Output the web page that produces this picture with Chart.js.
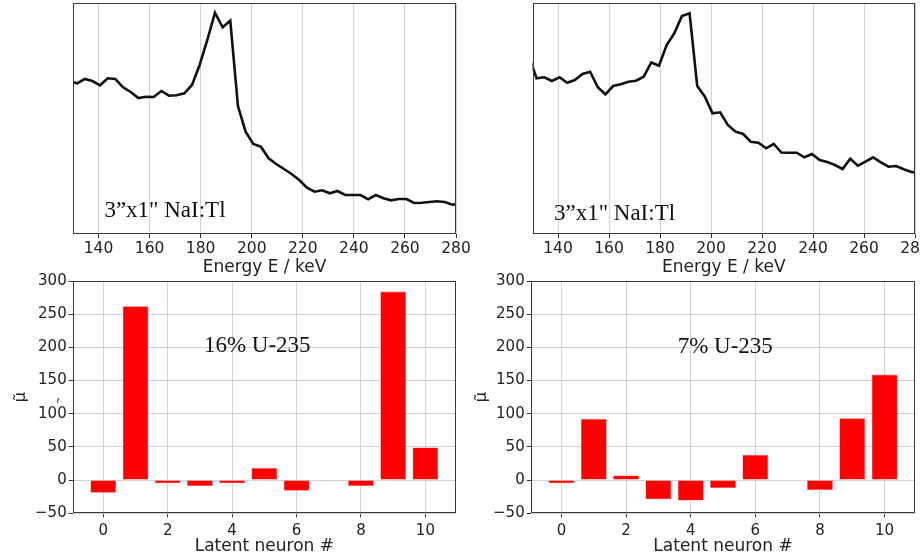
<!DOCTYPE html>
<html><head><meta charset="utf-8">
<script src="https://cdn.jsdelivr.net/npm/chart.js@4/dist/chart.umd.min.js"></script>
<style>
html,body{margin:0;padding:0;width:920px;height:556px;overflow:hidden;background:#fff;}
canvas{position:absolute;}
</style></head><body>
<canvas id="tl" width="475" height="280" style="left:0px;top:0px"></canvas>
<canvas id="tr" width="475" height="280" style="left:460px;top:0px"></canvas>
<canvas id="bl" width="470" height="286" style="left:0px;top:270px"></canvas>
<canvas id="br" width="470" height="286" style="left:460px;top:270px"></canvas>
<script>
// ---- data ----
const energies = [128.6,131.6,134.6,137.6,140.6,143.6,146.6,149.6,152.6,155.6,158.6,161.6,164.6,167.6,170.6,173.6,176.6,179.6,182.6,185.6,188.6,191.6,194.6,197.6,200.6,203.6,206.6,209.6,212.6,215.6,218.6,221.6,224.6,227.6,230.6,233.6,236.6,239.6,242.6,245.6,248.6,251.6,254.6,257.6,260.6,263.6,266.6,269.6,272.6,275.6,278.6,281.6];
const spectrum16 = [153,150.7,155,153,148.7,155.7,155,146.7,142,136,137.3,137,143,138.3,138.7,140.7,149,169,194,221.3,206.7,213.3,128,102.3,90,87.3,75.7,70,65,60,54,46.3,42.3,43.7,40.7,43,39,39,39,34.7,39,35.7,33.7,35,35,31,31.3,32,32.7,32,29.3,30];
const spectrum7 = [178,155.7,156.7,153,156.7,151.3,154,160,162.3,146.7,139.7,148,149.7,152.3,153.3,157.3,171.5,168.3,189,200.7,218,220.7,148,137.3,120.7,121.7,109,102.3,100,92.3,91.3,85.7,90,81.5,81.3,81.3,76.7,80,74,72,69,65,75.3,68.3,72.3,76.7,71.7,67.3,68,64.7,62,61];
const energyTicks = [140,160,180,200,220,240,260,280];
const neurons = [0,1,2,3,4,5,6,7,8,9,10];
const mu16 = [-19,262,-5,-9,-5,18,-16,-1,-9,284,49];
const mu7 = [-5,92,7,-29,-31,-12,38,0,-15,93,159];
const neuronTicks = [0,2,4,6,8,10];
const muTicks = [-50,0,50,100,150,200,250,300];

const TXT = '#222';
const GRID = '#d2d2d2';
const SANS = "'DejaVu Sans', sans-serif";
const SERIF = "'Liberation Serif', serif";

const framePlugin = {
  id: 'frame',
  afterDatasetsDraw(chart) {
    const {ctx, chartArea: a} = chart;
    const l = Math.round(a.left) + 0.5, t = Math.round(a.top) + 0.5;
    const r = Math.round(a.right) - 0.5, b = Math.round(a.bottom) - 0.5;
    ctx.save();
    ctx.strokeStyle = '#3a3a3a';
    ctx.lineWidth = 1;
    ctx.strokeRect(l, t, r - l, b - t);
    ctx.restore();
  }
};

const notesPlugin = {
  id: 'notes',
  afterDraw(chart, args, opts) {
    const ctx = chart.ctx;
    (opts.items || []).forEach(it => {
      ctx.save();
      ctx.font = it.font;
      ctx.fillStyle = it.color || '#111';
      ctx.textAlign = it.align || 'left';
      ctx.textBaseline = it.baseline || 'alphabetic';
      let px, py;
      if (it.px !== undefined) { px = it.px; py = it.py; }
      else { px = chart.scales.x.getPixelForValue(it.x); py = chart.scales.y.getPixelForValue(it.y); }
      ctx.translate(px, py);
      if (it.rot) ctx.rotate(it.rot);
      ctx.fillText(it.text, 0, 0);
      ctx.restore();
    });
  }
};

function lineChart(id, values, padL, padR, note) {
  return new Chart(document.getElementById(id), {
    type: 'line',
    data: { datasets: [{
      data: energies.map((e, i) => ({x: e, y: values[i]})),
      borderColor: '#111', borderWidth: 2.6, pointRadius: 0, tension: 0, fill: false
    }]},
    options: {
      responsive: false, animation: false, events: [],
      layout: {padding: {left: padL, top: 3, right: padR, bottom: 0}},
      plugins: {legend: {display: false}, tooltip: {enabled: false}, notes: {items: [note]}},
      scales: {
        x: {
          type: 'linear', min: 130, max: 280,
          afterBuildTicks: s => { s.ticks = energyTicks.map(v => ({value: v})); },
          afterFit: s => { s.height = 46; },
          grid: {color: GRID, tickColor: '#333', tickLength: 4, lineWidth: 1},
          border: {display: false},
          ticks: {font: {family: SANS, size: 15.5, lineHeight: 1}, color: TXT, padding: 3, maxRotation: 0, autoSkip: false},
          title: {display: true, text: 'Energy E / keV', color: TXT, font: {family: SANS, size: 17, lineHeight: 1}, padding: {top: 0, bottom: 3.5}}
        },
        y: {
          min: 0, max: 231,
          ticks: {display: false}, grid: {display: false}, border: {display: false},
          afterFit: s => { s.width = 0; }
        }
      }
    },
    plugins: [framePlugin, notesPlugin]
  });
}

function barChart(id, values, yw, padR, titlePad, note, extra) {
  const items = [note].concat(extra || []);
  return new Chart(document.getElementById(id), {
    type: 'bar',
    data: { datasets: [{
      data: neurons.map((n, i) => ({x: n, y: values[i]})),
      backgroundColor: '#ff0000', borderColor: '#ff5a5a', borderWidth: 0.6,
      barPercentage: 0.8, categoryPercentage: 1
    }]},
    options: {
      responsive: false, animation: false, events: [],
      layout: {padding: {left: 0, top: 11, right: padR, bottom: 0}},
      plugins: {legend: {display: false}, tooltip: {enabled: false}, notes: {items: items}},
      scales: {
        x: {
          type: 'linear', min: -0.95, max: 10.95, offset: false,
          afterBuildTicks: s => { s.ticks = neuronTicks.map(v => ({value: v})); },
          afterFit: s => { s.height = 286 - 243.2; },
          grid: {color: GRID, tickColor: '#333', tickLength: 4, offset: false},
          border: {display: false},
          ticks: {font: {family: SANS, size: 15, lineHeight: 1}, color: TXT, padding: 6, maxRotation: 0, autoSkip: false},
          title: {display: true, text: 'Latent neuron #', color: TXT, font: {family: SANS, size: 17, lineHeight: 1}, padding: {top: 0, bottom: 0.5}}
        },
        y: {
          min: -50, max: 300,
          afterBuildTicks: s => { s.ticks = muTicks.map(v => ({value: v})); },
          afterFit: s => { s.width = yw; },
          grid: {color: GRID, tickColor: '#333', tickLength: 4},
          border: {display: false},
          ticks: {font: {family: SANS, size: 15, lineHeight: 1}, color: TXT, padding: 2,
                  callback: v => String(v).replace('-', '\u2212')},
          title: {display: true, text: '\u03bc\u0303', color: TXT, font: {family: SANS, size: 16, lineHeight: 1.2}, padding: {top: titlePad, bottom: 0}}
        }
      }
    },
    plugins: [framePlugin, notesPlugin]
  });
}

lineChart('tl', spectrum16, 73, 19,
  {text: '3\u201dx1" NaI:Tl', x: 142.3, y: 17.3, font: '23px ' + SERIF, color: '#111'});
lineChart('tr', spectrum7, 72.5, 20,
  {text: '3\u201dx1" NaI:Tl', x: 138.4, y: 14, font: '23px ' + SERIF, color: '#111'});
barChart('bl', mu16, 72.7, 14, 11,
  {text: '16% U-235', x: 4.78, y: 193.4, font: '23px ' + SERIF, color: '#111', align: 'center'},
  [{text: '~', px: 58.5, py: 130.5, rot: -Math.PI / 2, font: '9px ' + SANS, color: TXT, align: 'center', baseline: 'middle'}]);
barChart('br', mu7, 70.7, 14.7, 12,
  {text: '7% U-235', x: 5.07, y: 191, font: '23px ' + SERIF, color: '#111', align: 'center'});
</script>
</body></html>
